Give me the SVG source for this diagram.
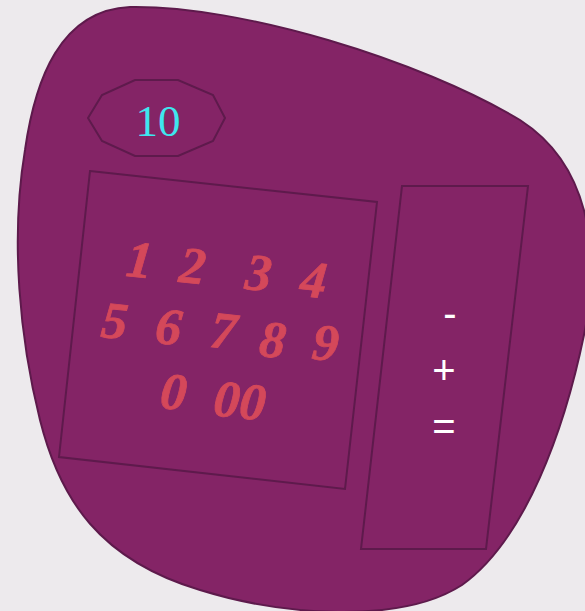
<svg xmlns="http://www.w3.org/2000/svg" width="585" height="611" viewBox="0 0 585 611">
<style>
.shape{fill:#842466;stroke:#5e1a4c;stroke-width:2}
.num{font-family:"Liberation Serif",serif;font-weight:bold;font-style:italic;font-size:52px;fill:#d4485a;stroke:#d4485a;stroke-width:0.8;text-anchor:middle}
.op{font-family:"Liberation Sans",sans-serif;font-size:40px;fill:#ffffff;text-anchor:middle}
</style>
<rect width="585" height="611" fill="#edeaed"/>
<g id="body">
<path class="shape" d="M130,7 C240,5 420,60 520,120 C590,165 600,250 585,330 C565,430 525,540 462,585 C400,625 280,615 200,590 C100,560 60,500 40,420 C20,340 10,240 25,150 C35,80 60,10 130,7 Z"/>
</g>
<g id="display">
<polygon class="shape" points="135,80 178,80 213,95 225,118 213,141 178,156 135,156 102,141 88,118 102,95"/>
<text x="158" y="136" font-family="Liberation Serif,serif" font-size="45" fill="#3ee6ef" text-anchor="middle">10</text>
</g>
<g id="keypad">
<polygon class="shape" points="90,171 377,202 345,489 59,457"/>
<text class="num" x="138" y="277" transform="rotate(6 138 277)">1</text>
<text class="num" x="191" y="283" transform="rotate(6 191 283)">2</text>
<text class="num" x="257" y="290" transform="rotate(6 257 290)">3</text>
<text class="num" x="312" y="297" transform="rotate(6 312 297)">4</text>
<text class="num" x="113" y="338" transform="rotate(6 113 338)">5</text>
<text class="num" x="167" y="344" transform="rotate(6 167 344)">6</text>
<text class="num" x="222" y="348" transform="rotate(6 222 348)">7</text>
<text class="num" x="271" y="357" transform="rotate(6 271 357)">8</text>
<text class="num" x="324" y="360" transform="rotate(6 324 360)">9</text>
<text class="num" x="172" y="409" transform="rotate(6 172 409)">0</text>
<text class="num" x="238" y="418" transform="rotate(6 238 418)">00</text>
</g>
<g id="operators">
<polygon class="shape" points="402,186 528,186 486,549 361,549"/>
<text class="op" x="450" y="327">-</text>
<text class="op" x="444" y="384">+</text>
<text class="op" x="444" y="440">=</text>
</g>
</svg>
